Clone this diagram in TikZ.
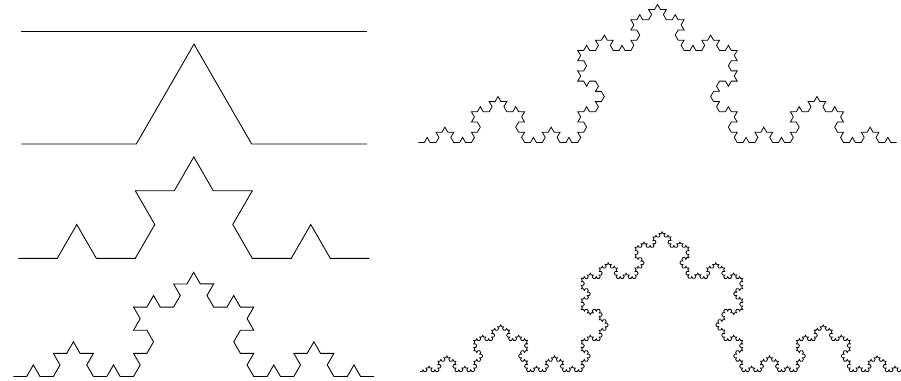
\documentclass[tikz,border=0pt]{standalone}
\usepackage{tikz}
\usetikzlibrary{decorations.fractals}
\tikzset{
  curve/.style  = {line width=0.9pt, black},
  fine/.style   = {line width=0.8pt, black},
  koch/.style   = {decoration={Koch snowflake}}
}

\begin{document}
\begin{tikzpicture}[x=1pt, y=-1pt]
      \useasboundingbox (0,0) rectangle (901,380);
      % end points of each stage
      \coordinate (s0a) at (21,31.3);     \coordinate (s0b) at (367,31.3);
      \coordinate (s1a) at (21,144);      \coordinate (s1b) at (367,144);
      \coordinate (s2a) at (18.3,258.3);  \coordinate (s2b) at (369.3,258.3);
      \coordinate (s3a) at (13.3,376.5);  \coordinate (s3b) at (374,376.5);
      \coordinate (s4a) at (418.3,142.5); \coordinate (s4b) at (896.7,142.5);
      \coordinate (s5a) at (420,371.5);   \coordinate (s5b) at (904,371.5);
      \draw[curve] (s0a) -- (s0b);
      \draw[curve, koch] decorate{ (s1a) -- (s1b) };
      \draw[curve, koch] decorate{ decorate{ (s2a) -- (s2b) }};
      \draw[curve, koch] decorate{ decorate{ decorate{ (s3a) -- (s3b) }}};
      \draw[fine, koch] decorate{ decorate{ decorate{ decorate{ (s4a) -- (s4b) }}}};
      \draw[fine, koch] decorate{ decorate{ decorate{ decorate{ decorate{ (s5a) -- (s5b) }}}}};
    \end{tikzpicture}
\end{document}
